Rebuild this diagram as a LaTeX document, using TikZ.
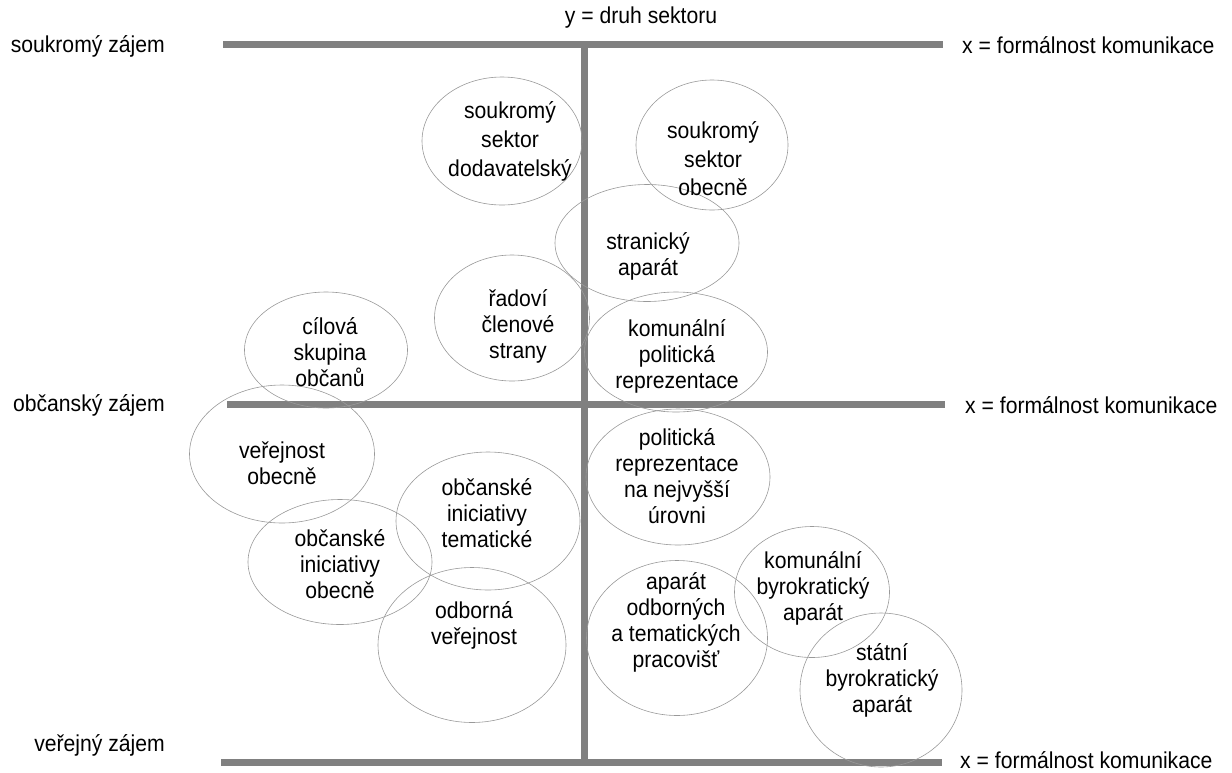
\documentclass[tikz,border=0pt]{standalone}
\usepackage{fontspec}
\setmainfont[FakeStretch=0.92]{Liberation Sans}
\usetikzlibrary{shapes.geometric}
\begin{document}
\begin{tikzpicture}[x=1pt,y=-1pt,
  axis/.style={line width=7pt, draw=black!50},
  ring/.style={draw=black!40, line width=0.6pt, ellipse, inner sep=0pt},
  txt/.style={align=center, inner sep=0pt, font=\fontsize{23}{26}\selectfont},
  lbl/.style={font=\fontsize{23}{26}\selectfont, inner sep=0pt}]
\useasboundingbox (0,0) rectangle (1232,772);

% axes
\coordinate (t1) at (223,44);  \coordinate (t2) at (943,44);
\coordinate (m1) at (227,404); \coordinate (m2) at (945,404);
\coordinate (b1) at (221,762); \coordinate (b2) at (942,762);
\coordinate (v1) at (584,44);  \coordinate (v2) at (584,762);
\draw[axis] (t1) -- (t2);
\draw[axis] (m1) -- (m2);
\draw[axis] (b1) -- (b2);
\draw[axis] (v1) -- (v2);

% axis labels
\node[lbl] (ylab) at (641,18) {y = druh sektoru};
\node[lbl, anchor=east] (ls) at (165,46) {soukromý zájem};
\node[lbl, anchor=east] (lo) at (165,405) {občanský zájem};
\node[lbl, anchor=east] (lv) at (165,745) {veřejný zájem};
\node[lbl, anchor=west] (xs) at (962,45) {x = formálnost komunikace};
\node[lbl, anchor=west] (xo) at (965,405) {x = formálnost komunikace};
\node[lbl, anchor=west] (xv) at (960,760) {x = formálnost komunikace};

% group outlines
\node[ring, minimum width=160pt, minimum height=128pt] (ssd-e) at (502,141) {};
\node[ring, minimum width=152pt, minimum height=130pt] (sso-e) at (712,145) {};
\node[ring, minimum width=184pt, minimum height=117pt] (sa-e)  at (647,243) {};
\node[ring, minimum width=155pt, minimum height=126pt] (rcs-e) at (512,318) {};
\node[ring, minimum width=183pt, minimum height=120pt] (kpr-e) at (676,352) {};
\node[ring, minimum width=163pt, minimum height=116pt] (cso-e) at (326,350) {};
\node[ring, minimum width=185pt, minimum height=138pt] (vo-e)  at (282,454) {};
\node[ring, minimum width=184pt, minimum height=136pt] (prn-e) at (678,477) {};
\node[ring, minimum width=184pt, minimum height=138pt] (oit-e) at (488,521) {};
\node[ring, minimum width=184pt, minimum height=125pt] (oio-e) at (340,562) {};
\node[ring, minimum width=188pt, minimum height=155pt] (ov-e)  at (472,645) {};
\node[ring, minimum width=181pt, minimum height=155pt] (aot-e) at (677,638) {};
\node[ring, minimum width=155pt, minimum height=131pt] (kba-e) at (812,592) {};
\node[ring, minimum width=162pt, minimum height=154pt] (sba-e) at (881,690) {};

% group names
\node[txt, font=\fontsize{23}{29}\selectfont] (ssd) at (510,141) {soukromý\\sektor\\dodavatelský};
\node[txt, font=\fontsize{23}{28.5}\selectfont] (sso) at (713,159) {soukromý\\sektor\\obecně};
\node[txt] (sa)  at (648,256) {stranický\\aparát};
\node[txt] (rcs) at (518,326) {řadoví\\členové\\strany};
\node[txt] (kpr) at (677,356) {komunální\\politická\\reprezentace};
\node[txt] (cso) at (330,352) {cílová\\skupina\\občanů};
\node[txt] (vo)  at (282,463) {veřejnost\\obecně};
\node[txt] (prn) at (677,476) {politická\\reprezentace\\na nejvyšší\\úrovni};
\node[txt] (oit) at (487,513) {občanské\\iniciativy\\tematické};
\node[txt] (oio) at (340,564) {občanské\\iniciativy\\obecně};
\node[txt] (ov)  at (474,625) {odborná\\veřejnost};
\node[txt] (aot) at (676,622) {aparát\\odborných\\a tematických\\pracovišť};
\node[txt] (kba) at (813,588) {komunální\\byrokratický\\aparát};
\node[txt] (sba) at (882,680) {státní\\byrokratický\\aparát};
\end{tikzpicture}
\end{document}
